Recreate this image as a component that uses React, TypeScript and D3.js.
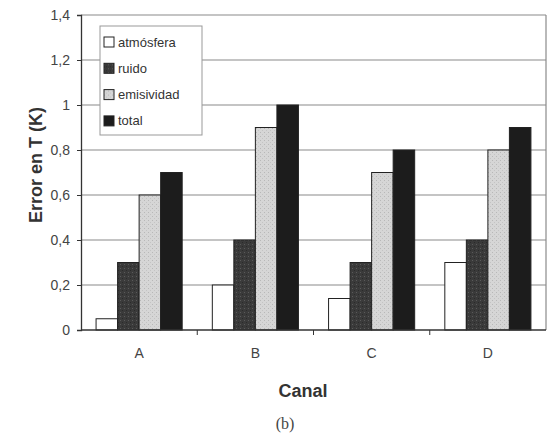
import React, { useEffect, useRef } from "react";
import * as d3 from "d3";

const categories = ["A", "B", "C", "D"];
const seriesNames = ["atmósfera", "ruido", "emisividad", "total"];
const atmosfera = [0.05, 0.2, 0.14, 0.3];
const ruido = [0.3, 0.4, 0.3, 0.4];
const emisividad = [0.6, 0.9, 0.7, 0.8];
const total = [0.7, 1.0, 0.8, 0.9];
const yTicks = [0, 0.2, 0.4, 0.6, 0.8, 1, 1.2, 1.4];

const fills = ["#ffffff", "url(#pat-ruido)", "url(#pat-emis)", "#1c1c1c"];
const sans = "Liberation Sans, Arial, sans-serif";

const App = () => {
  const svgRef = useRef<SVGSVGElement | null>(null);

  useEffect(() => {
    const svg = d3.select(svgRef.current);
    svg.selectAll("*").remove();

    const width = 548;
    const height = 437;
    const m = { left: 81, right: 2, top: 15, bottom: 107 };
    const series = [atmosfera, ruido, emisividad, total];

    // texturas
    const defs = svg.append("defs");
    const p1 = defs.append("pattern").attr("id", "pat-ruido").attr("width", 4).attr("height", 4).attr("patternUnits", "userSpaceOnUse");
    p1.append("rect").attr("width", 4).attr("height", 4).attr("fill", "#3a3a3a");
    p1.append("rect").attr("x", 0).attr("y", 0).attr("width", 1).attr("height", 1).attr("fill", "#5a5a5a");
    p1.append("rect").attr("x", 2).attr("y", 2).attr("width", 1).attr("height", 1).attr("fill", "#2a2a2a");
    const p2 = defs.append("pattern").attr("id", "pat-emis").attr("width", 4).attr("height", 4).attr("patternUnits", "userSpaceOnUse");
    p2.append("rect").attr("width", 4).attr("height", 4).attr("fill", "#d6d6d6");
    p2.append("rect").attr("x", 0).attr("y", 0).attr("width", 1).attr("height", 1).attr("fill", "#b8b8b8");
    p2.append("rect").attr("x", 2).attr("y", 2).attr("width", 1).attr("height", 1).attr("fill", "#c4c4c4");

    const x0 = d3.scaleBand().domain(categories).range([m.left, width - m.right]).paddingInner(0).paddingOuter(0);
    const x1 = d3.scaleBand().domain(seriesNames).range([0, x0.bandwidth()]).paddingOuter(0.7).paddingInner(0);
    const y = d3.scaleLinear().domain([0, 1.4]).range([height - m.bottom, m.top]);

    // rejilla
    svg.append("g")
      .selectAll("line")
      .data(yTicks.slice(1))
      .join("line")
      .attr("x1", m.left)
      .attr("x2", width - m.right)
      .attr("y1", d => y(d))
      .attr("y2", d => y(d))
      .attr("stroke", "#8a8a8a")
      .attr("stroke-width", 1.2);

    // marco derecho
    svg.append("line")
      .attr("x1", width - m.right).attr("x2", width - m.right)
      .attr("y1", m.top).attr("y2", height - m.bottom)
      .attr("stroke", "#8a8a8a").attr("stroke-width", 1.2);

    // barras
    seriesNames.forEach((name, si) => {
      svg.append("g")
        .selectAll("rect")
        .data(series[si])
        .join("rect")
        .attr("x", (d, i) => (x0(categories[i]) ?? 0) + (x1(name) ?? 0))
        .attr("y", d => y(d))
        .attr("width", x1.bandwidth())
        .attr("height", d => y(0) - y(d))
        .attr("fill", fills[si])
        .attr("stroke", "#222")
        .attr("stroke-width", 1);
    });

    // eje Y
    const yAxis = d3.axisLeft(y)
      .tickValues(yTicks)
      .tickSize(4)
      .tickFormat(d => d3.format("~g")(d as number).replace(".", ","));
    const gy = svg.append("g").attr("transform", `translate(${m.left},0)`).call(yAxis);
    gy.select(".domain").attr("stroke", "#333").attr("stroke-width", 1.3);
    gy.selectAll(".tick line").attr("stroke", "#333");
    gy.selectAll(".tick text")
      .attr("font-family", sans)
      .attr("font-size", 14)
      .attr("fill", "#444")
      .attr("x", -11);

    // eje X
    const gx = svg.append("g").attr("transform", `translate(0,${y(0)})`);
    gx.append("line")
      .attr("x1", m.left).attr("x2", width - m.right)
      .attr("stroke", "#333").attr("stroke-width", 1.3);
    gx.selectAll("line.tk")
      .data(categories.slice(1))
      .join("line")
      .attr("class", "tk")
      .attr("x1", d => x0(d) ?? 0)
      .attr("x2", d => x0(d) ?? 0)
      .attr("y1", 0)
      .attr("y2", 5)
      .attr("stroke", "#333");
    gx.selectAll("text")
      .data(categories)
      .join("text")
      .attr("x", d => (x0(d) ?? 0) + x0.bandwidth() / 2)
      .attr("y", 28)
      .attr("text-anchor", "middle")
      .attr("font-family", sans)
      .attr("font-size", 14)
      .attr("fill", "#444")
      .text(d => d);

    // titulos
    svg.append("text")
      .attr("transform", `translate(42,165) rotate(-90)`)
      .attr("text-anchor", "middle")
      .attr("font-family", sans)
      .attr("font-weight", "bold")
      .attr("font-size", 18)
      .attr("fill", "#333")
      .text("Error en T (K)");
    svg.append("text")
      .attr("x", 303)
      .attr("y", 397)
      .attr("text-anchor", "middle")
      .attr("font-family", sans)
      .attr("font-weight", "bold")
      .attr("font-size", 18)
      .attr("fill", "#333")
      .text("Canal");
    svg.append("text")
      .attr("x", 285)
      .attr("y", 429)
      .attr("text-anchor", "middle")
      .attr("font-family", "Liberation Serif, Times New Roman, serif")
      .attr("font-size", 16)
      .attr("fill", "#444")
      .text("(b)");

    // leyenda
    const lg = svg.append("g").attr("transform", "translate(100,26)");
    lg.append("rect")
      .attr("width", 102).attr("height", 109)
      .attr("fill", "#fff").attr("stroke", "#999").attr("stroke-width", 1);
    seriesNames.forEach((name, i) => {
      const row = lg.append("g").attr("transform", `translate(4,${16 + i * 26.3})`);
      row.append("rect")
        .attr("x", 0).attr("y", -5).attr("width", 10).attr("height", 10)
        .attr("fill", fills[i]).attr("stroke", "#222");
      row.append("text")
        .attr("x", 14).attr("y", 4.5)
        .attr("font-family", sans)
        .attr("font-size", 13)
        .attr("fill", "#333")
        .text(name);
    });
  }, []);

  return (
    <svg
      ref={svgRef}
      width={548}
      height={437}
      style={{ position: "absolute", left: 0, top: 0, background: "#fff" }}
    ></svg>
  );
};

export default App;
